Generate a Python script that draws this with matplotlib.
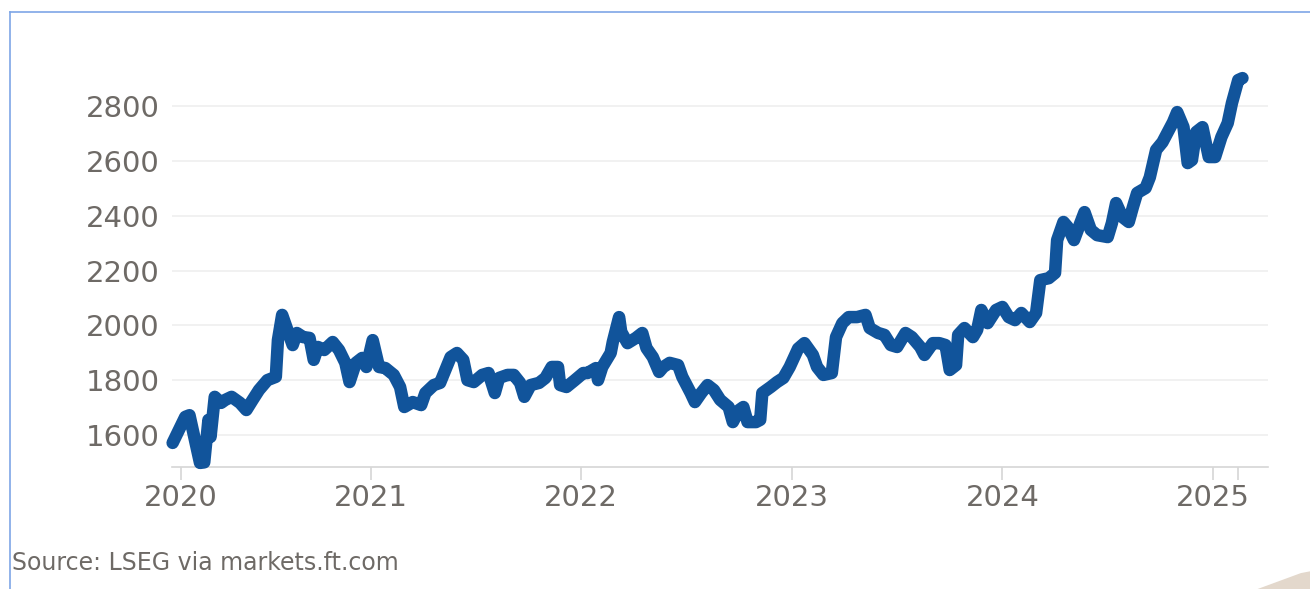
import matplotlib.pyplot as plt
from matplotlib.lines import Line2D
from matplotlib.patches import Polygon

plt.rcParams['font.family'] = ['DejaVu Sans']

# gold price (decimal year, USD)
t = [2020.06, 2020.12, 2020.14, 2020.19, 2020.21, 2020.23, 2020.24, 2020.26, 2020.29, 2020.31,
     2020.34, 2020.38, 2020.41, 2020.44, 2020.47, 2020.51, 2020.55, 2020.56, 2020.58, 2020.60,
     2020.63, 2020.65, 2020.68, 2020.71, 2020.73, 2020.75, 2020.78, 2020.82, 2020.85, 2020.88,
     2020.90, 2020.93, 2020.96, 2020.98, 2021.01, 2021.04, 2021.07, 2021.11, 2021.14, 2021.16,
     2021.20, 2021.24, 2021.26, 2021.30, 2021.33, 2021.38, 2021.41, 2021.44, 2021.46, 2021.49,
     2021.53, 2021.56, 2021.59, 2021.61, 2021.65, 2021.68, 2021.71, 2021.73, 2021.76, 2021.80,
     2021.83, 2021.86, 2021.89, 2021.90, 2021.93, 2021.97, 2022.01, 2022.03, 2022.07, 2022.08,
     2022.10, 2022.14, 2022.15, 2022.18, 2022.19, 2022.22, 2022.26, 2022.29, 2022.31, 2022.34,
     2022.37, 2022.39, 2022.42, 2022.46, 2022.48, 2022.52, 2022.54, 2022.57, 2022.60, 2022.63,
     2022.66, 2022.70, 2022.72, 2022.75, 2022.77, 2022.79, 2022.83, 2022.85, 2022.86, 2022.90,
     2022.93, 2022.96, 2022.99, 2023.03, 2023.06, 2023.10, 2023.12, 2023.15, 2023.19, 2023.21,
     2023.24, 2023.27, 2023.31, 2023.35, 2023.37, 2023.41, 2023.44, 2023.47, 2023.50, 2023.54,
     2023.57, 2023.61, 2023.63, 2023.67, 2023.70, 2023.73, 2023.75, 2023.78, 2023.79, 2023.82,
     2023.86, 2023.88, 2023.90, 2023.93, 2023.97, 2024.00, 2024.03, 2024.06, 2024.09, 2024.13,
     2024.16, 2024.18, 2024.22, 2024.25, 2024.26, 2024.29, 2024.31, 2024.34, 2024.37, 2024.39,
     2024.42, 2024.45, 2024.50, 2024.52, 2024.54, 2024.57, 2024.60, 2024.62, 2024.64, 2024.68,
     2024.70, 2024.73, 2024.76, 2024.81, 2024.83, 2024.86, 2024.88, 2024.90, 2024.92, 2024.95,
     2024.98, 2025.01, 2025.04, 2025.07, 2025.09, 2025.12, 2025.14]
price = [1571, 1666, 1672, 1498, 1500, 1655, 1593, 1739, 1717, 1728,
         1739, 1717, 1691, 1728, 1764, 1800, 1812, 1946, 2038, 1994,
         1928, 1972, 1957, 1954, 1874, 1921, 1910, 1939, 1910, 1863,
         1793, 1863, 1881, 1848, 1946, 1848, 1844, 1819, 1775, 1702,
         1720, 1709, 1753, 1782, 1790, 1884, 1899, 1874, 1800, 1793,
         1819, 1826, 1753, 1808, 1819, 1819, 1790, 1739, 1782, 1790,
         1808, 1848, 1848, 1782, 1775, 1800, 1826, 1826, 1844, 1800,
         1848, 1899, 1939, 2030, 1976, 1935, 1954, 1972, 1917, 1884,
         1830, 1848, 1863, 1855, 1812, 1753, 1720, 1753, 1782, 1764,
         1728, 1702, 1647, 1691, 1702, 1647, 1647, 1655, 1753, 1775,
         1793, 1808, 1848, 1915, 1935, 1892, 1848, 1819, 1826, 1957,
         2008, 2030, 2030, 2038, 1990, 1972, 1965, 1928, 1921, 1972,
         1957, 1921, 1892, 1935, 1935, 1928, 1837, 1855, 1965, 1990,
         1957, 1983, 2056, 2008, 2056, 2067, 2030, 2019, 2045, 2012,
         2045, 2165, 2172, 2191, 2311, 2377, 2359, 2311, 2373, 2413,
         2348, 2329, 2322, 2373, 2446, 2395, 2377, 2432, 2483, 2501,
         2540, 2640, 2668, 2741, 2778, 2723, 2592, 2603, 2705, 2723,
         2614, 2614, 2687, 2738, 2811, 2895, 2902]

year_ticks = [2020.10, 2021, 2022, 2023, 2024, 2025, 2025.12]
year_labels = ['2020', '2021', '2022', '2023', '2024', '2025', '']
y_ticks = [1600, 1800, 2000, 2200, 2400, 2600, 2800]

text_grey = '#6e6a66'

fig = plt.figure(figsize=(13.1, 5.89), dpi=100)
ax = fig.add_axes([0.1313, 0.2071, 0.8366, 0.691])

ax.plot(t, price, color='#11549b', lw=9, solid_joinstyle='round',
        solid_capstyle='round', clip_on=False, zorder=3)

ax.set_xlim(2020.057, 2025.261)
ax.set_ylim(1483, 2968)
ax.set_yticks(y_ticks)
ax.set_yticklabels([str(v) for v in y_ticks])
ax.set_xticks(year_ticks)
ax.set_xticklabels(year_labels)

ax.grid(axis='y', color='#efefef', lw=1.2)
ax.set_axisbelow(True)
for s in ['top', 'right', 'left']:
    ax.spines[s].set_visible(False)
ax.spines['bottom'].set_color('#d6d6d6')
ax.spines['bottom'].set_linewidth(1.2)

ax.tick_params(axis='y', length=0, pad=9, labelsize=21, labelcolor=text_grey)
ax.tick_params(axis='x', length=9, width=1.2, color='#d6d6d6', pad=3,
               labelsize=21, labelcolor=text_grey)

fig.text(0.009, 0.044, 'Source: LSEG via markets.ft.com', fontsize=17,
         color=text_grey, va='center')

# frame lines and corner
fig.add_artist(Line2D([0.0076, 1.0], [0.980, 0.980], color='#7ea6e6', lw=1.2))
fig.add_artist(Line2D([0.0076, 0.0076], [0.0, 0.980], color='#7ea6e6', lw=1.2))
fig.add_artist(Polygon([[0.960, 0.0], [0.993, 0.027], [1.0, 0.030], [1.0, 0.0]],
                       closed=True, color='#e3d8cc', lw=0))

plt.savefig('out.png', dpi=100)
